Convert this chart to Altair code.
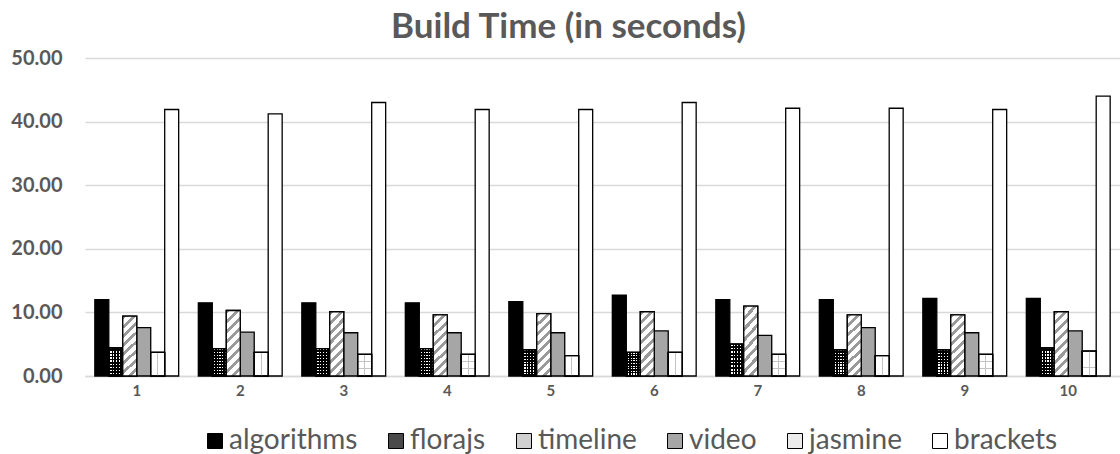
import altair as alt
import pandas as pd

# Build time per run (seconds) for each project
runs = ["1", "2", "3", "4", "5", "6", "7", "8", "9", "10"]
series = ["algorithms", "florajs", "timeline", "video", "jasmine", "brackets"]
algorithms = [12.0, 11.5, 11.5, 11.5, 11.7, 12.7, 12.0, 12.0, 12.2, 12.2]
florajs = [4.4, 4.3, 4.3, 4.3, 4.1, 3.7, 5.0, 4.1, 4.1, 4.4]
timeline = [9.4, 10.3, 10.1, 9.6, 9.8, 10.1, 11.0, 9.6, 9.6, 10.1]
video = [7.6, 6.9, 6.8, 6.8, 6.8, 7.1, 6.4, 7.6, 6.8, 7.1]
jasmine = [3.7, 3.7, 3.4, 3.4, 3.2, 3.7, 3.4, 3.2, 3.4, 3.9]
brackets = [41.9, 41.2, 43.0, 41.9, 41.9, 43.0, 42.1, 42.1, 41.9, 44.0]

values = {
    "algorithms": algorithms,
    "florajs": florajs,
    "timeline": timeline,
    "video": video,
    "jasmine": jasmine,
    "brackets": brackets,
}
df = pd.DataFrame(
    [{"run": r, "series": s, "seconds": v} for s in series for r, v in zip(runs, values[s])]
)

# Solid swatches used by the base bars and the legend
swatch = ["#000000", "#4a4a4a", "#d0d0d0", "#a6a6a6", "#ececec", "#ffffff"]

FONT = "Lato"
GREY_TEXT = "#595959"


def stripes(n, frac, on, off, x2, y2):
    """Hard-edged repeating linear gradient used as a fill pattern."""
    stops = []
    for k in range(n):
        a = round(k / n, 4)
        b = round((k + frac) / n, 4)
        c = round((k + 1) / n, 4)
        stops += [
            alt.GradientStop(color=on, offset=a),
            alt.GradientStop(color=on, offset=b),
            alt.GradientStop(color=off, offset=b),
            alt.GradientStop(color=off, offset=c),
        ]
    return alt.Gradient(gradient="linear", stops=stops, x1=0, y1=0, x2=x2, y2=y2)


x_enc = alt.X(
    "run:N",
    sort=runs,
    scale=alt.Scale(paddingInner=0.19, paddingOuter=0.095),
    axis=alt.Axis(
        title=None,
        labelAngle=0,
        ticks=False,
        domain=True,
        domainColor="#d9d9d9",
        domainWidth=1.3,
        labelFont=FONT,
        labelFontSize=15,
        labelFontWeight="bold",
        labelColor=GREY_TEXT,
        labelPadding=7,
        grid=False,
    ),
)
xo_enc = alt.XOffset("series:N", sort=series, scale=alt.Scale(domain=series, paddingInner=0, paddingOuter=0))
y_enc = alt.Y(
    "seconds:Q",
    scale=alt.Scale(domain=[0, 50], nice=False),
    axis=alt.Axis(
        title=None,
        values=[0, 10, 20, 30, 40, 50],
        format=".2f",
        ticks=False,
        domain=False,
        gridColor="#d9d9d9",
        gridWidth=1.3,
        labelFont=FONT,
        labelFontSize=20,
        labelFontWeight="bold",
        labelColor=GREY_TEXT,
        labelPadding=23,
    ),
)

STROKE = dict(stroke="black", strokeWidth=1.3)

base = alt.Chart(df).mark_bar(**STROKE).encode(
    x=x_enc,
    xOffset=xo_enc,
    y=y_enc,
    fill=alt.Fill(
        "series:N",
        scale=alt.Scale(domain=series, range=swatch),
        legend=alt.Legend(
            title=None,
            orient="none",
            direction="horizontal",
            legendX=116,
            legendY=369,
            symbolType="square",
            symbolSize=225,
            symbolStrokeColor="black",
            symbolStrokeWidth=1,
            labelFont=FONT,
            labelFontSize=28,
            labelColor=GREY_TEXT,
            labelOffset=0,
            columnPadding=24,
        ),
    ),
)


def overlay(name, fill):
    return (
        alt.Chart(df)
        .transform_filter(alt.datum.series == name)
        .mark_bar(fill=fill, **STROKE)
        .encode(x=x_enc, xOffset=xo_enc, y=y_enc)
    )


# florajs: white dots on black
flora_rows = overlay("florajs", stripes(9, 0.45, "#ffffff", "#000000", 0, 1))
flora_cols = overlay("florajs", stripes(5, 0.55, "#000000", "rgba(0,0,0,0)", 1, 0))
# timeline: grey diagonal hatching
timeline_hatch = overlay("timeline", stripes(8, 0.42, "#9a9a9a", "#ffffff", 0.257, 1.164))
# jasmine: light brick lines
jas_rows = overlay("jasmine", stripes(3, 0.93, "#ffffff", "#c4c4c4", 0, 1))
jas_col = overlay(
    "jasmine",
    alt.Gradient(
        gradient="linear",
        x1=0, y1=0, x2=1, y2=0,
        stops=[
            alt.GradientStop(color="rgba(0,0,0,0)", offset=0),
            alt.GradientStop(color="rgba(0,0,0,0)", offset=0.46),
            alt.GradientStop(color="#c4c4c4", offset=0.46),
            alt.GradientStop(color="#c4c4c4", offset=0.54),
            alt.GradientStop(color="rgba(0,0,0,0)", offset=0.54),
            alt.GradientStop(color="rgba(0,0,0,0)", offset=1),
        ],
    ),
)

chart = (
    alt.layer(base, flora_rows, flora_cols, timeline_hatch, jas_rows, jas_col)
    .properties(
        width=1035,
        height=318,
        autosize="none",
        padding={"left": 85, "top": 58, "right": 0, "bottom": 78},
        title=alt.TitleParams(
            "Build Time (in seconds)",
            font=FONT,
            fontSize=35,
            fontWeight="bold",
            color=GREY_TEXT,
            anchor="middle",
            dx=-34,
            offset=3,
        ),
        background="white",
    )
    .configure_view(stroke=None)
)

chart.save("out.html", embed_options={"renderer": "svg", "actions": False})
